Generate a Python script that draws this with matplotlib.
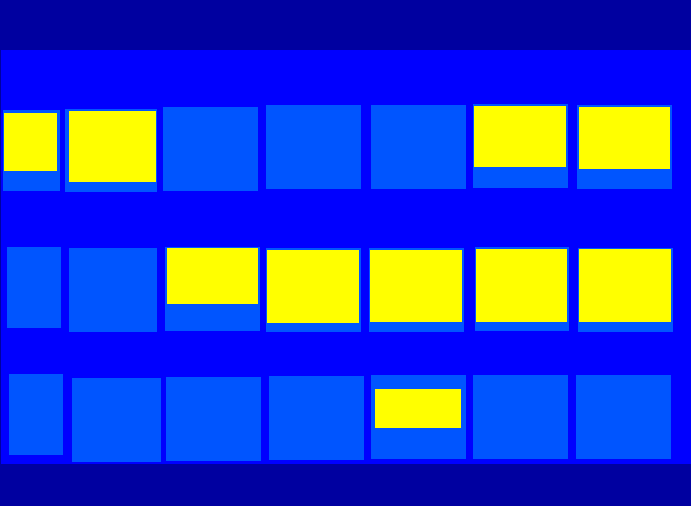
import matplotlib
matplotlib.use("Agg")
import matplotlib.pyplot as plt

# cell boxes per row (pixel units, y grows downward)
cell_left = [[3, 65, 163, 266, 371, 473, 577],
             [7, 69, 165, 266, 369, 475, 578],
             [9, 72, 166, 269, 371, 473, 576]]
cell_right = [[60, 157, 258, 361, 466, 568, 672],
              [61, 157, 260, 361, 464, 569, 673],
              [63, 161, 261, 364, 466, 568, 671]]
cell_top = [[110, 109, 107, 105, 105, 104, 105],
            [247, 248, 247, 248, 248, 247, 248],
            [374, 378, 377, 376, 375, 375, 375]]
cell_bottom = [[191, 192, 191, 189, 189, 188, 189],
               [328, 332, 331, 332, 332, 331, 332],
               [455, 462, 461, 460, 459, 459, 459]]

# yellow fills: (row, col, left, right, top, bottom)
fill_row = [0, 0, 0, 0, 1, 1, 1, 1, 1, 2]
fill_col = [0, 1, 5, 6, 2, 3, 4, 5, 6, 4]
fill_left = [4, 69, 474, 579, 167, 267, 370, 476, 579, 375]
fill_right = [57, 156, 566, 670, 258, 359, 462, 567, 671, 461]
fill_top = [113, 111, 106, 107, 248, 250, 250, 249, 249, 389]
fill_bottom = [171, 182, 167, 169, 304, 323, 322, 322, 322, 428]

W, H = 691, 506
PANEL_TOP, PANEL_BOTTOM, PANEL_LEFT = 50, 464, 1

BG = '#0000A0'
PANEL = '#0000FF'
CELL = '#0055FF'
FILL = '#FFFF00'

fig = plt.figure(figsize=((W + 0.01) / 100, (H + 0.01) / 100), dpi=100, facecolor=BG)
ax = fig.add_axes([0, 0, 1, 1])
ax.set_facecolor(BG)
ax.axis('off')

# panel
ax.bar(PANEL_LEFT, PANEL_BOTTOM - PANEL_TOP, width=W - PANEL_LEFT,
       bottom=PANEL_TOP, align='edge', color=PANEL, linewidth=0)

for r in range(len(cell_left)):
    lefts = cell_left[r]
    widths = [b - a for a, b in zip(lefts, cell_right[r])]
    heights = [b - t for t, b in zip(cell_top[r], cell_bottom[r])]
    ax.bar(lefts, heights, width=widths, bottom=cell_top[r],
           align='edge', color=CELL, linewidth=0)

ax.bar(fill_left, [b - t for t, b in zip(fill_top, fill_bottom)],
       width=[b - a for a, b in zip(fill_left, fill_right)],
       bottom=fill_top, align='edge', color=FILL, linewidth=0)

ax.set_xlim(0, W)
ax.set_ylim(H, 0)

fig.savefig('out.png', dpi=100, facecolor=BG)
